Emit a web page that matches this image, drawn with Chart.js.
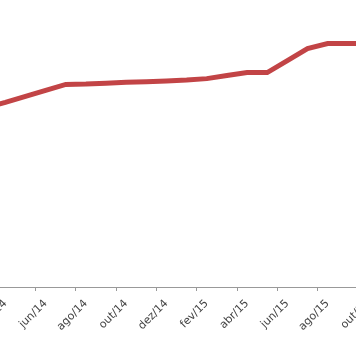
<!DOCTYPE html>
<html>
<head>
<meta charset="utf-8">
<script src="https://cdn.jsdelivr.net/npm/chart.js@4.4.0/dist/chart.umd.min.js"></script>
<style>
  html, body { margin: 0; padding: 0; background: #fff; }
  #wrap { position: relative; width: 356px; height: 347px; overflow: hidden; }
  #box { position: absolute; left: -45px; top: 0; width: 423px; height: 347px; }
</style>
</head>
<body>
<div id="wrap">
  <div id="box"><canvas id="lineChart"></canvas></div>
</div>
<script>
// months (only every other one gets a label, like the original)
const months = [
    'fev/14', 'mar/14', 'abr/14', 'mai/14', 'jun/14', 'jul/14', 'ago/14', 'set/14',
    'out/14', 'nov/14', 'dez/14', 'jan/15', 'fev/15', 'mar/15', 'abr/15', 'mai/15',
    'jun/15', 'jul/15', 'ago/15', 'set/15', 'out/15'
];

// values (no y axis shown, scale 0-100)
const values = [
    60.6, 62.4, 64.3, 66.4, 68.5, 70.6, 70.7, 71.0,
    71.3, 71.5, 71.8, 72.1, 72.6, 73.7, 74.7, 74.7,
    78.9, 83.1, 84.8, 84.8, 84.8
];

const yMin = 0;
const yMax = 100;

const ctx = document.getElementById('lineChart').getContext('2d');

new Chart(ctx, {
    type: 'line',
    data: {
        labels: months,
        datasets: [{
            data: values,
            borderColor: 'rgb(194, 68, 70)',
            borderWidth: 5,
            pointRadius: 0,
            tension: 0,
            fill: false
        }]
    },
    options: {
        responsive: true,
        maintainAspectRatio: false,
        animation: false,
        layout: { padding: 0 },
        plugins: {
            legend: { display: false },
            tooltip: { enabled: false }
        },
        scales: {
            x: {
                offset: true,
                grid: {
                    offset: true,
                    drawOnChartArea: false,
                    tickLength: 4,
                    color: c => (c.index % 2 === 0 ? '#999' : 'rgba(0,0,0,0)')
                },
                border: { color: '#999', width: 1 },
                ticks: {
                    autoSkip: false,
                    minRotation: 45,
                    maxRotation: 45,
                    padding: 6,
                    color: '#444',
                    font: { family: 'DejaVu Sans', size: 11 },
                    callback: function (val, i) {
                        return i % 2 === 0 ? this.getLabelForValue(val) : '';
                    }
                },
                afterFit: function (scale) {
                    scale.height = 60;
                    scale.paddingLeft = 0;
                    scale.paddingRight = 0;
                }
            },
            y: {
                display: false,
                min: yMin,
                max: yMax
            }
        }
    }
});
</script>
</body>
</html>
